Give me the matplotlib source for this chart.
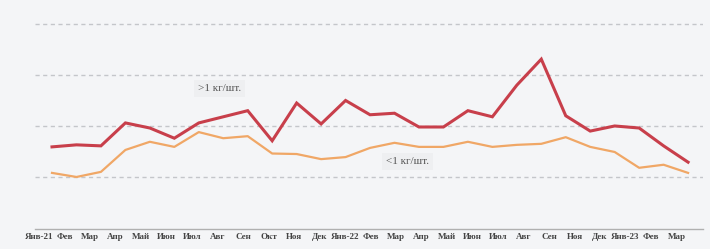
import matplotlib.pyplot as plt
import numpy as np

# monthly series, Jan-2021 .. Mar-2023 (27 points)
months = ["Янв-21", "Фев", "Мар", "Апр", "Май", "Июн", "Июл", "Авг", "Сен", "Окт", "Ноя", "Дек",
          "Янв-22", "Фев", "Мар", "Апр", "Май", "Июн", "Июл", "Авг", "Сен", "Окт", "Ноя", "Дек",
          "Янв-23", "Фев", "Мар"]
over_1kg = [0.59, 0.63, 0.61, 1.06, 0.96, 0.76, 1.06, 1.18, 1.30, 0.71, 1.45, 1.04,
            1.50, 1.22, 1.25, 0.98, 0.98, 1.30, 1.18, 1.80, 2.31, 1.20, 0.90, 1.00,
            0.96, 0.61, 0.29]
under_1kg = [0.08, 0.00, 0.10, 0.53, 0.69, 0.59, 0.88, 0.76, 0.80, 0.46, 0.45, 0.35,
             0.39, 0.57, 0.67, 0.59, 0.59, 0.69, 0.59, 0.63, 0.65, 0.78, 0.59, 0.49,
             0.18, 0.24, 0.08]
# axis labels as printed (the source skips "Окт" in 2022)
tick_labels = ["Янв-21", "Фев", "Мар", "Апр", "Май", "Июн", "Июл", "Авг", "Сен", "Окт", "Ноя", "Дек",
               "Янв-22", "Фев", "Мар", "Апр", "Май", "Июн", "Июл", "Авг", "Сен", "Ноя", "Дек",
               "Янв-23", "Фев", "Мар"]
grid_levels = [0, 1, 2, 3]

bg = "#f4f5f7"
plt.rcParams["font.family"] = ["Liberation Serif", "DejaVu Serif"]

fig = plt.figure(figsize=(7.1, 2.49), dpi=100, facecolor=bg)
ax = fig.add_axes([35 / 710, 20 / 249, 668 / 710, 229 / 249])
ax.set_facecolor(bg)

x = np.arange(len(months))
for g in grid_levels:
    ax.axhline(g, color="#c4c6ca", lw=1.0, ls=(0, (3, 2.5)), zorder=1)

ax.plot(x, over_1kg, color="#c83f4b", lw=2.2, solid_joinstyle="miter", zorder=3)
ax.plot(x, under_1kg, color="#f0a766", lw=1.6, zorder=3)

ax.set_xlim(-0.695, 26.61)
ax.set_ylim(-1.02, 3.47)

ax.set_xticks(np.linspace(-0.53, 25.53, len(tick_labels)))
ax.set_xticklabels(tick_labels, fontsize=6.5, fontweight="bold", color="#444444")
ax.tick_params(axis="x", length=0, pad=3)
ax.set_yticks([])
for s in ["top", "right", "left"]:
    ax.spines[s].set_visible(False)
ax.spines["bottom"].set_color("#b0b0b0")
ax.spines["bottom"].set_linewidth(1.0)

ax.text(5.95, 1.73, ">1 кг/шт.", fontsize=8, color="#555555", va="center", ha="left",
        bbox=dict(boxstyle="square,pad=0.35", fc="#eeeff1", ec="none"), zorder=4)
ax.text(13.65, 0.3, "<1 кг/шт.", fontsize=8, color="#555555", va="center", ha="left",
        bbox=dict(boxstyle="square,pad=0.35", fc="#eeeff1", ec="none"), zorder=4)

plt.savefig("out.png", dpi=100, facecolor=bg)
